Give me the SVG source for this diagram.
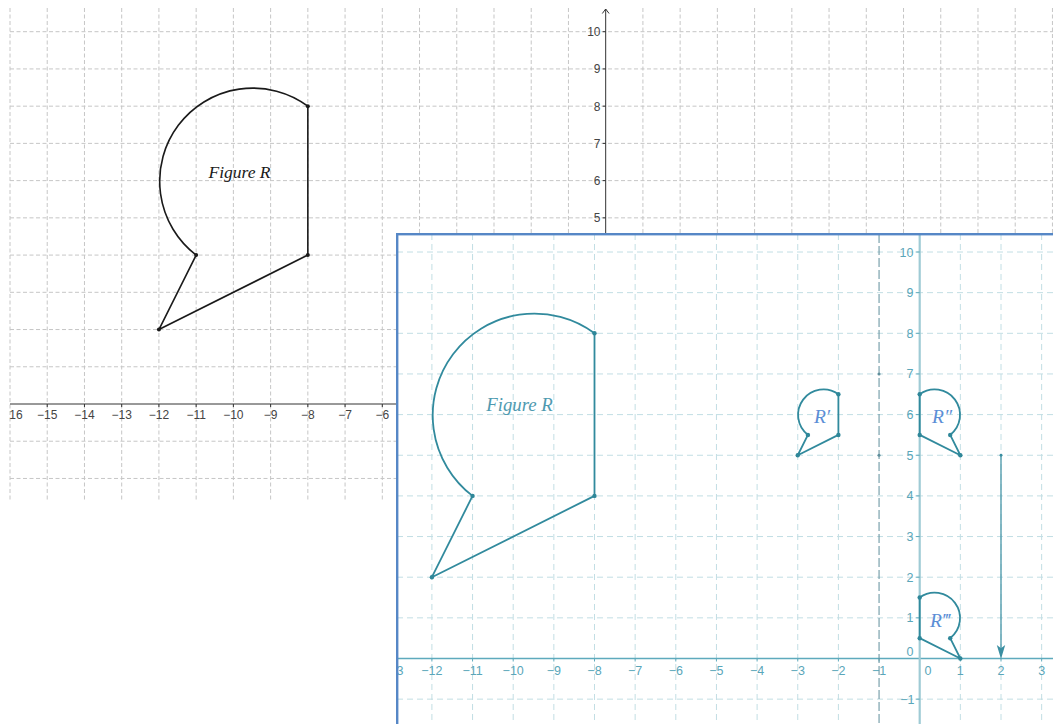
<svg xmlns="http://www.w3.org/2000/svg" width="1053" height="724" viewBox="0 0 1053 724">
<defs>
<style>
.bgrid{fill:none;stroke:#c6c6c6;stroke-width:1;stroke-dasharray:4 2.5}
.fgrid{fill:none;stroke:#c2dee4;stroke-width:1;stroke-dasharray:6 4}
.blab{font-family:"Liberation Sans",Arial,sans-serif;font-size:12px;fill:#444}
.flab{font-family:"Liberation Sans",Arial,sans-serif;font-size:12.5px;fill:#5aa6b9}
.bfig{fill:none;stroke:#1a1a1a;stroke-width:1.6;stroke-linejoin:round}
.ffig{fill:none;stroke:#318a9d;stroke-width:1.8;stroke-linejoin:round}
.bdot{fill:#1a1a1a}
.fdot{fill:#2f8799}
.figlab{font-family:"Liberation Serif","Times New Roman",serif;font-style:italic}
.rlab{font-family:"Liberation Serif","Times New Roman",serif;font-style:italic;font-size:19.5px;fill:#5b8ed6}
</style>
<clipPath id="panelClip"><rect x="397" y="234" width="656" height="490"/></clipPath>
</defs>
<rect width="1053" height="724" fill="#ffffff"/>

<g id="back-graph">
<path class="bgrid" d="M10 8V500M47.23 8V500M84.46 8V500M121.69 8V500M158.92 8V500M196.15 8V500M233.38 8V500M270.61 8V500M307.84 8V500M345.07 8V500M382.3 8V500M419.53 8V500M456.76 8V500M493.99 8V500M531.22 8V500M568.45 8V500M642.91 8V500M680.14 8V500M717.37 8V500M754.6 8V500M791.83 8V500M829.06 8V500M866.29 8V500M903.52 8V500M940.75 8V500M977.98 8V500M1015.21 8V500M1052.44 8V500"/>
<path class="bgrid" d="M10 31.7H1053M10 68.93H1053M10 106.16H1053M10 143.39H1053M10 180.62H1053M10 217.85H1053M10 255.08H1053M10 292.31H1053M10 329.54H1053M10 366.77H1053M10 441.23H1053M10 478.46H1053"/>
<g id="back-axes" stroke="#333" stroke-width="1" fill="none">
<path d="M10 404H1053"/>
<path d="M605.68 9V404"/>
<path d="M602.3 13.5L605.68 9L609.1 13.5"/>
<path d="M47.23 404v3M84.46 404v3M121.69 404v3M158.92 404v3M196.15 404v3M233.38 404v3M270.61 404v3M307.84 404v3M345.07 404v3M382.3 404v3"/>
<path d="M602.7 31.7h3M602.7 68.93h3M602.7 106.16h3M602.7 143.39h3M602.7 180.62h3M602.7 217.85h3"/>
</g>
<g id="back-x-labels" class="blab" text-anchor="middle">
<text x="16" y="418.5">16</text>
<text x="47.23" y="418.5">−15</text>
<text x="84.46" y="418.5">−14</text>
<text x="121.69" y="418.5">−13</text>
<text x="158.92" y="418.5">−12</text>
<text x="196.15" y="418.5">−11</text>
<text x="233.38" y="418.5">−10</text>
<text x="270.61" y="418.5">−9</text>
<text x="307.84" y="418.5">−8</text>
<text x="345.07" y="418.5">−7</text>
<text x="382.3" y="418.5">−6</text>
</g>
<g id="back-y-labels" class="blab" text-anchor="end">
<text x="600.5" y="36">10</text>
<text x="600.5" y="73.2">9</text>
<text x="600.5" y="110.5">8</text>
<text x="600.5" y="147.7">7</text>
<text x="600.5" y="184.9">6</text>
<text x="600.5" y="222.2">5</text>
</g>
<g id="back-figure-R">
<path class="bfig" d="M307.84 106.16A93.08 93.08 0 0 0 196.15 255.08L158.92 329.54L307.84 255.08Z"/>
<circle class="bdot" cx="307.84" cy="106.16" r="2"/>
<circle class="bdot" cx="307.84" cy="255.08" r="2"/>
<circle class="bdot" cx="196.15" cy="255.08" r="2"/>
<circle class="bdot" cx="158.92" cy="329.54" r="2"/>
<text class="figlab" x="239.5" y="177.5" font-size="17.5" fill="#1a1a1a" text-anchor="middle">Figure R</text>
</g>
</g>

<g id="front-panel">
<rect x="397" y="234" width="660" height="494" fill="#ffffff"/>
<g clip-path="url(#panelClip)">
<path class="fgrid" d="M431.9 234V724M472.55 234V724M513.2 234V724M553.85 234V724M594.5 234V724M635.15 234V724M675.8 234V724M716.45 234V724M757.1 234V724M797.75 234V724M838.4 234V724M960.35 234V724M1001 234V724M1041.65 234V724"/>
<path class="fgrid" d="M397 252H1053M397 292.65H1053M397 333.3H1053M397 373.95H1053M397 414.6H1053M397 455.25H1053M397 495.9H1053M397 536.55H1053M397 577.2H1053M397 617.85H1053M397 699.15H1053"/>
<g id="front-axes" fill="none">
<path d="M397 658.5H1053" stroke="#5eaabd" stroke-width="1.5"/>
<path d="M919.7 234V724" stroke="#9fcbd5" stroke-width="2.2"/>
<path stroke="#5eaabd" stroke-width="1" d="M431.9 658.5v3M472.55 658.5v3M513.2 658.5v3M553.85 658.5v3M594.5 658.5v3M635.15 658.5v3M675.8 658.5v3M716.45 658.5v3M757.1 658.5v3M797.75 658.5v3M838.4 658.5v3M879.05 658.5v3M960.35 658.5v3M1001 658.5v3M1041.65 658.5v3"/>
<path stroke="#5eaabd" stroke-width="1" d="M915.7 252h4M915.7 292.65h4M915.7 333.3h4M915.7 373.95h4M915.7 414.6h4M915.7 455.25h4M915.7 495.9h4M915.7 536.55h4M915.7 577.2h4M915.7 617.85h4M915.7 699.15h4"/>
</g>
<g id="front-x-labels" class="flab" text-anchor="middle">
<text x="400" y="674.5">3</text>
<text x="431.9" y="674.5">−12</text>
<text x="472.55" y="674.5">−11</text>
<text x="513.2" y="674.5">−10</text>
<text x="553.85" y="674.5">−9</text>
<text x="594.5" y="674.5">−8</text>
<text x="635.15" y="674.5">−7</text>
<text x="675.8" y="674.5">−6</text>
<text x="716.45" y="674.5">−5</text>
<text x="757.1" y="674.5">−4</text>
<text x="797.75" y="674.5">−3</text>
<text x="838.4" y="674.5">−2</text>
<text x="879.05" y="674.5">−1</text>
<text x="928" y="674.5">0</text>
<text x="960.35" y="674.5">1</text>
<text x="1001" y="674.5">2</text>
<text x="1041.65" y="674.5">3</text>
</g>
<g id="front-y-labels" class="flab" text-anchor="end">
<text x="913.5" y="256.5">10</text>
<text x="913.5" y="297.1">9</text>
<text x="913.5" y="337.8">8</text>
<text x="913.5" y="378.4">7</text>
<text x="913.5" y="419.1">6</text>
<text x="913.5" y="459.7">5</text>
<text x="913.5" y="500.4">4</text>
<text x="913.5" y="541">3</text>
<text x="913.5" y="581.7">2</text>
<text x="913.5" y="622.3">1</text>
<text x="913.5" y="656.2">0</text>
<text x="914.5" y="703.6">−1</text>
</g>
<g id="reflection-line">
<path d="M879.05 234V724" fill="none" stroke="#5f8e9b" stroke-width="1" stroke-dasharray="9 3"/>
<circle cx="879.05" cy="373.95" r="1.5" fill="#5f8e9b"/>
<circle cx="879.05" cy="455.25" r="1.5" fill="#5f8e9b"/>
</g>
<g id="connectors">
<g id="translation-vector">
<path d="M1001 455.25V648" fill="none" stroke="#3a8ea1" stroke-width="1.2"/>
<path d="M1001 659L996.8 645L1001 648.2L1005.2 645Z" fill="#3a8ea1"/>
<circle cx="1001" cy="455.25" r="1.4" fill="#3a8ea1"/>
</g>
</g>
<g id="front-figure-R">
<path class="ffig" d="M594.5 333.3A101.63 101.63 0 0 0 472.55 495.9L431.9 577.2L594.5 495.9Z"/>
<circle class="fdot" cx="594.5" cy="333.3" r="2.2"/>
<circle class="fdot" cx="594.5" cy="495.9" r="2.2"/>
<circle class="fdot" cx="472.55" cy="495.9" r="2.2"/>
<circle class="fdot" cx="431.9" cy="577.2" r="2.2"/>
<text class="figlab" x="519.5" y="410.5" font-size="18.8" fill="#4f9ab0" text-anchor="middle">Figure R</text>
</g>
<g id="figure-R1">
<path class="ffig" d="M838.4 394.28A25.41 25.41 0 0 0 807.91 434.93L797.75 455.25L838.4 434.93Z"/>
<circle class="fdot" cx="838.4" cy="394.28" r="2.2"/>
<circle class="fdot" cx="838.4" cy="434.93" r="2.2"/>
<circle class="fdot" cx="807.91" cy="434.93" r="2.2"/>
<circle class="fdot" cx="797.75" cy="455.25" r="2.2"/>
<text class="rlab" x="822" y="423" text-anchor="middle">R′</text>
</g>
<g id="figure-R2">
<path class="ffig" d="M919.7 394.28A25.41 25.41 0 0 1 950.19 434.93L960.35 455.25L919.7 434.93Z"/>
<circle class="fdot" cx="919.7" cy="394.28" r="2.2"/>
<circle class="fdot" cx="919.7" cy="434.93" r="2.2"/>
<circle class="fdot" cx="950.19" cy="434.93" r="2.2"/>
<circle class="fdot" cx="960.35" cy="455.25" r="2.2"/>
<text class="rlab" x="942" y="423" text-anchor="middle">R″</text>
</g>
<g id="figure-R3">
<path class="ffig" d="M919.7 597.53A25.41 25.41 0 0 1 950.19 638.18L960.35 658.5L919.7 638.18Z"/>
<circle class="fdot" cx="919.7" cy="597.53" r="2.2"/>
<circle class="fdot" cx="919.7" cy="638.18" r="2.2"/>
<circle class="fdot" cx="950.19" cy="638.18" r="2.2"/>
<circle class="fdot" cx="960.35" cy="658.5" r="2.2"/>
<text class="rlab" x="940" y="627" text-anchor="middle">R‴</text>
</g>
</g>
<rect x="397.2" y="234.2" width="660" height="494" fill="none" stroke="#5687c6" stroke-width="2.4"/>
</g>
</svg>
